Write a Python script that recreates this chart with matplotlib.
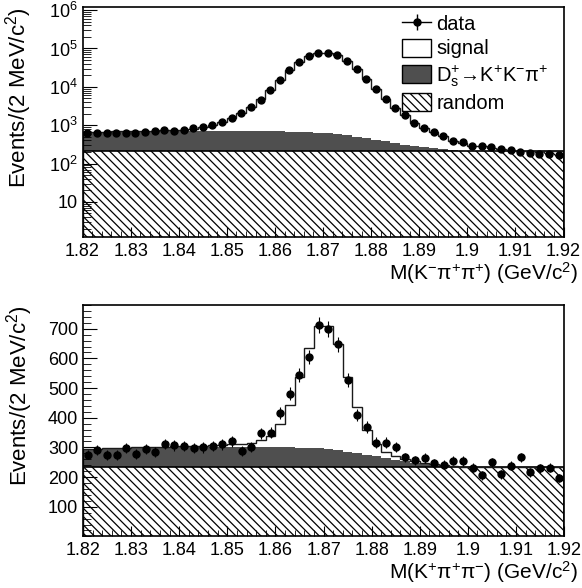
import numpy as np
import matplotlib.pyplot as plt
from matplotlib.lines import Line2D
from matplotlib.patches import Patch
from matplotlib.ticker import FixedLocator, MultipleLocator, LogLocator, NullFormatter

plt.rcParams['font.family'] = ['Liberation Sans', 'DejaVu Sans']
plt.rcParams['mathtext.fontset'] = 'custom'
plt.rcParams['mathtext.rm'] = 'Liberation Sans'
plt.rcParams['mathtext.it'] = 'Liberation Sans'
plt.rcParams['mathtext.bf'] = 'Liberation Sans:bold'
plt.rcParams['mathtext.default'] = 'regular'
plt.rcParams['hatch.linewidth'] = 0.9

# 2 MeV bins from 1.82 to 1.92 GeV
edges = np.linspace(1.82, 1.92, 51)
centers = 0.5 * (edges[:-1] + edges[1:])

# ---- top: M(K- pi+ pi+), log scale ----
data_top = [622, 622, 630, 635, 610, 640, 684, 710, 757, 726,
            757, 838, 900, 1040, 1222, 1525, 2137, 2944, 4600, 8300,
            15100, 26700, 44500, 64000, 76500, 77400, 66000, 47500, 29000, 15800,
            8650, 4800, 2850, 1800, 1172, 838, 665, 510, 395, 365,
            285, 293, 265, 234, 222, 198, 184, 180, 175, 170]
signal_top = [5, 6, 7, 8, 10, 12, 15, 19, 25, 33,
              45, 100, 170, 290, 480, 800, 1400, 2300, 4100, 7700,
              14300, 26000, 43500, 62500, 75500, 76500, 66000, 48000, 29000, 15500,
              8230, 4420, 2500, 1490, 880, 570, 430, 290, 170, 130,
              70, 70, 45, 18, 6, 1, 1, 1, 1, 1]
ds_top = [440, 450, 458, 465, 470, 475, 480, 484, 487, 490,
          490, 490, 490, 490, 490, 488, 486, 484, 480, 476,
          470, 462, 452, 440, 425, 405, 375, 335, 290, 245,
          200, 160, 125, 95, 70, 50, 32, 18, 8, 3,
          1, 0, 0, 0, 0, 0, 0, 0, 0, 0]
random_top = [216] * 50

# ---- bottom: M(K+ pi+ pi-), linear scale ----
data_bot = [276, 291, 275, 275, 298, 278, 295, 284, 312, 307,
            304, 298, 300, 304, 310, 320, 287, 302, 347, 350,
            417, 481, 543, 604, 714, 698, 647, 528, 408, 369,
            316, 316, 301, 266, 256, 265, 246, 241, 255, 254,
            231, 206, 250, 209, 238, 266, 216, 230, 232, 196]
signal_bot = [1, 1, 1, 1, 1, 2, 2, 2, 2, 3,
              3, 3, 4, 5, 6, 8, 10, 12, 22, 39,
              79, 144, 238, 338, 411, 414, 359, 252, 155, 84,
              42, 20, 11, 7, 5, 4, 3, 2, 2, 1,
              1, 1, 1, 1, 1, 1, 1, 1, 1, 1]
ds_bot = [62, 62, 63, 63, 64, 65, 66, 66, 67, 67,
          68, 68, 69, 69, 69, 69, 69, 69, 69, 68,
          68, 67, 66, 65, 64, 61, 57, 52, 48, 43,
          38, 32, 26, 20, 15, 11, 7, 4, 2, 1,
          0, 0, 0, 0, 0, 0, 0, 0, 0, 0]
random_bot = [233] * 50

xticks = [1.82, 1.83, 1.84, 1.85, 1.86, 1.87, 1.88, 1.89, 1.90, 1.91, 1.92]
xticklabels = ['1.82', '1.83', '1.84', '1.85', '1.86', '1.87', '1.88', '1.89', '1.9', '1.91', '1.92']

DS_COLOR = '#4f4f4f'


def ext(v):
    v = np.asarray(v, dtype=float)
    return np.append(v, v[-1])


def draw_panel(ax, data, signal, ds, rnd, base):
    rnd = np.asarray(rnd, float)
    ds = np.asarray(ds, float)
    signal = np.asarray(signal, float)
    # random (hatched)
    ax.fill_between(edges, base, ext(rnd), step='post', facecolor='white',
                    edgecolor='black', hatch='\\\\\\\\', linewidth=0)
    # Ds -> KKpi
    ax.fill_between(edges, ext(rnd), ext(rnd + ds), step='post',
                    facecolor=DS_COLOR, edgecolor='none', linewidth=0)
    ax.stairs(rnd, edges, color='black', lw=1.2)
    # total (signal on top)
    ax.stairs(rnd + ds + signal, edges, color='#1a1a1a', lw=1.0)
    data = np.asarray(data, float)
    ax.errorbar(centers, data, yerr=np.sqrt(data), fmt='o', color='black',
                ms=5, elinewidth=0.8, capsize=0, zorder=5)
    ax.set_xlim(1.82, 1.92)
    ax.xaxis.set_major_locator(FixedLocator(xticks))
    ax.set_xticklabels(xticklabels)
    ax.xaxis.set_minor_locator(MultipleLocator(0.002))
    ax.tick_params(which='both', direction='in', top=False, right=False, labelsize=13)
    ax.tick_params(axis='x', which='major', length=7, pad=4)
    ax.tick_params(axis='x', which='minor', length=4)
    for s in ax.spines.values():
        s.set_linewidth(1.2)


fig = plt.figure(figsize=(5.82, 5.88), dpi=100)
ax1 = fig.add_axes([0.1418, 0.5965, 0.8265, 0.3915])
ax2 = fig.add_axes([0.1426, 0.0878, 0.8265, 0.3935])

# top panel
ax1.set_yscale('log')
draw_panel(ax1, data_top, signal_top, ds_top, random_top, 0.5)
ax1.set_ylim(1.2, 1.2e6)
ax1.yaxis.set_major_locator(FixedLocator([10, 1e2, 1e3, 1e4, 1e5, 1e6]))
ax1.set_yticklabels(['10', '$10^{2}$', '$10^{3}$', '$10^{4}$', '$10^{5}$', '$10^{6}$'])
ax1.yaxis.set_minor_locator(LogLocator(base=10, subs=np.arange(2, 10)))
ax1.yaxis.set_minor_formatter(NullFormatter())
ax1.tick_params(axis='y', which='major', length=10)
ax1.tick_params(axis='y', which='minor', length=6)
ax1.set_xlabel(r'M(K$^{-}\pi^{+}\pi^{+}$) (GeV/c$^{2}$)', fontsize=15, loc='right')
ax1.set_ylabel(r'Events/(2 MeV/c$^{2}$)', fontsize=16, loc='top')
ax1.yaxis.set_label_coords(-0.10, 1.0)
ax1.xaxis.set_label_coords(1.03, -0.1)

data_handle = (Line2D([], [], color='black', lw=1),
               Line2D([], [], color='black', marker='|', ms=12, ls='none', mew=1),
               Line2D([], [], color='black', marker='o', ms=5, ls='none'))
handles = [data_handle,
           Patch(facecolor='white', edgecolor='black', lw=1),
           Patch(facecolor=DS_COLOR, edgecolor='black', lw=1),
           Patch(facecolor='white', edgecolor='black', lw=1, hatch='\\\\\\\\')]
labels = ['data', 'signal', 'D$_{s}^{+}$\u2192K$^{+}$K$^{-}\\pi^{+}$', 'random']
ax1.legend(handles, labels, loc='upper left', bbox_to_anchor=(0.635, 1.03),
           frameon=False, fontsize=14.5, handlelength=1.45, handleheight=1.0,
           handletextpad=0.25, labelspacing=0.22, borderpad=0.2)

# bottom panel
draw_panel(ax2, data_bot, signal_bot, ds_bot, random_bot, 0)
ax2.set_ylim(0, 780)
ax2.yaxis.set_major_locator(FixedLocator([100, 200, 300, 400, 500, 600, 700]))
ax2.yaxis.set_minor_locator(MultipleLocator(20))
ax2.tick_params(axis='y', which='major', length=10)
ax2.tick_params(axis='y', which='minor', length=6)
ax2.set_xlabel(r'M(K$^{+}\pi^{+}\pi^{-}$) (GeV/c$^{2}$)', fontsize=15, loc='right')
ax2.set_ylabel(r'Events/(2 MeV/c$^{2}$)', fontsize=16, loc='top')
ax2.yaxis.set_label_coords(-0.10, 1.0)
ax2.xaxis.set_label_coords(1.03, -0.1)

fig.savefig('out.png', dpi=100)
